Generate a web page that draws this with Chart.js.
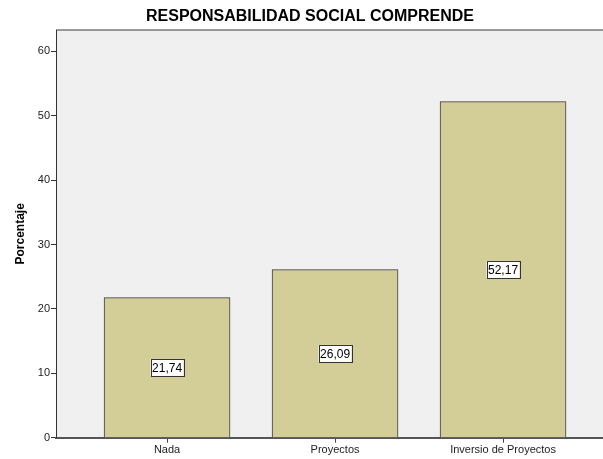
<!DOCTYPE html>
<html>
<head>
<meta charset="utf-8">
<script src="https://cdn.jsdelivr.net/npm/chart.js@4.4.0/dist/chart.umd.min.js"></script>
<style>
  html, body { margin: 0; padding: 0; background: #ffffff; }
  #wrap { width: 603px; height: 459px; position: relative; }
</style>
</head>
<body>
<div id="wrap"><canvas id="myChart"></canvas></div>
<script>
// Chart data
var chartTitle = "RESPONSABILIDAD SOCIAL COMPRENDE";
var categories = ["Nada", "Proyectos", "Inversio de Proyectos"];
var percentages = [21.74, 26.09, 52.17];
var valueLabels = ["21,74", "26,09", "52,17"];
var yTicks = [0, 10, 20, 30, 40, 50, 60];

// Plot background, top border line and the title (SPSS puts it a bit right of the canvas centre)
var plotBackground = {
  id: "plotBackground",
  beforeDraw: function(chart) {
    var ctx = chart.ctx, a = chart.chartArea;
    ctx.save();
    ctx.fillStyle = "#f0f0f0";
    ctx.fillRect(a.left, a.top, a.right - a.left, a.bottom - a.top);
    ctx.strokeStyle = "#7a7a7a";
    ctx.lineWidth = 1.5;
    ctx.beginPath();
    ctx.moveTo(a.left, a.top);
    ctx.lineTo(a.right, a.top);
    ctx.stroke();

    ctx.fillStyle = "#000000";
    ctx.font = "bold 16px 'Liberation Sans', Arial, sans-serif";
    ctx.textAlign = "center";
    ctx.textBaseline = "middle";
    ctx.fillText(chartTitle, 310, 17);
    ctx.restore();
  }
};

// Boxed value labels in the middle of each bar
var boxedLabels = {
  id: "boxedLabels",
  afterDatasetsDraw: function(chart) {
    var ctx = chart.ctx;
    var meta = chart.getDatasetMeta(0);
    ctx.save();
    ctx.font = "12px 'Liberation Sans', Arial, sans-serif";
    ctx.textAlign = "center";
    ctx.textBaseline = "middle";
    meta.data.forEach(function(bar, i) {
      var txt = valueLabels[i];
      var cy = (bar.y + bar.base) / 2;
      var w = ctx.measureText(txt).width + 3;
      var h = 17;
      ctx.fillStyle = "#ffffff";
      ctx.fillRect(bar.x - w / 2, cy - h / 2, w, h);
      ctx.strokeStyle = "#333333";
      ctx.lineWidth = 1;
      ctx.strokeRect(Math.round(bar.x - w / 2) + 0.5, Math.round(cy - h / 2) + 0.5, Math.round(w), h);
      ctx.fillStyle = "#000000";
      ctx.fillText(txt, bar.x, cy + 1);
    });
    ctx.restore();
  }
};

var ctx = document.getElementById("myChart");
var myChart = new Chart(ctx, {
  type: "bar",
  data: {
    datasets: [{
      label: "Porcentaje",
      data: percentages.map(function(v, i) { return { x: i + 1, y: v }; }),
      backgroundColor: "#d3ce98",
      borderColor: "#3c3c3c",
      borderWidth: 1,
      barThickness: 126
    }]
  },
  plugins: [plotBackground, boxedLabels],
  options: {
    responsive: true,
    maintainAspectRatio: false,
    animation: false,
    layout: { padding: { top: 30, left: 0, right: 0, bottom: 0 } },
    plugins: {
      legend: { display: false },
      tooltip: { enabled: false },
      title: { display: false }
    },
    scales: {
      x: {
        type: "linear",
        offset: false,
        min: 0.339,
        max: 3.595,
        afterBuildTicks: function(scale) {
          scale.ticks = categories.map(function(c, i) { return { value: i + 1 }; });
        },
        afterFit: function(scale) { scale.height = 21.3; },
        ticks: {
          callback: function(value) { return categories[value - 1]; },
          color: "#222222",
          font: { family: "'Liberation Sans', Arial, sans-serif", size: 11 },
          padding: 1,
          maxRotation: 0,
          autoSkip: false
        },
        grid: { offset: false, drawOnChartArea: false, drawTicks: true, tickLength: 5, color: "#444444" },
        border: { display: true, color: "#555555", width: 2 }
      },
      y: {
        min: 0,
        max: 63.3,
        afterBuildTicks: function(scale) {
          scale.ticks = yTicks.map(function(v) { return { value: v }; });
        },
        afterFit: function(scale) { scale.width = 56; },
        ticks: {
          color: "#222222",
          font: { family: "'Liberation Sans', Arial, sans-serif", size: 11 },
          padding: 1
        },
        grid: { drawOnChartArea: false, drawTicks: true, tickLength: 5, color: "#333333" },
        border: { display: true, color: "#333333", width: 1 },
        title: {
          display: true,
          text: "Porcentaje",
          color: "#000000",
          font: { family: "'Liberation Sans', Arial, sans-serif", size: 12, weight: "bold" },
          padding: { top: 13, bottom: 0 }
        }
      }
    }
  }
});
</script>
</body>
</html>
